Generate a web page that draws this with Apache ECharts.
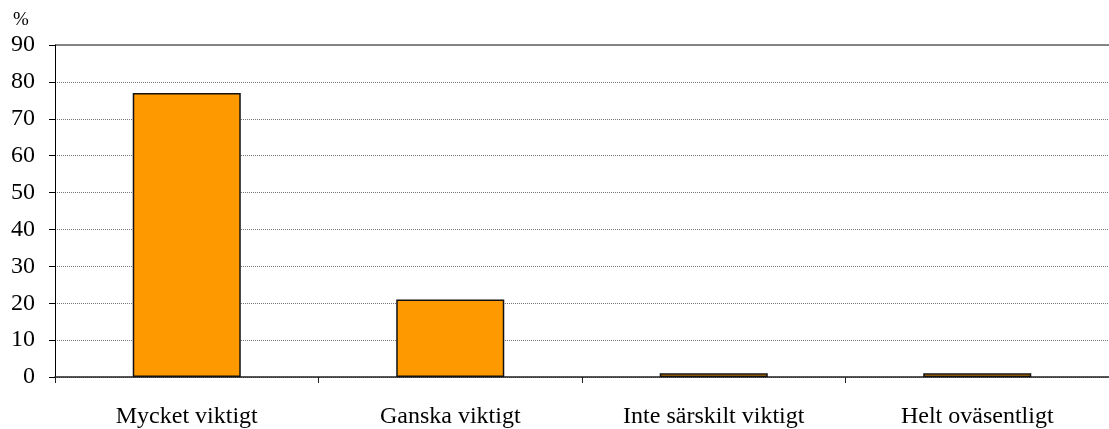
<!DOCTYPE html>
<html>
<head>
<meta charset="UTF-8">
<title>chart</title>
<script src="https://cdn.jsdelivr.net/npm/echarts@6/dist/echarts.min.js"></script>
<style>
  html, body { margin: 0; padding: 0; background: #fff; }
  #main { width: 1109px; height: 429px; }
</style>
</head>
<body>
<div id="main"></div>
<script>
var categories = ['Mycket viktigt', 'Ganska viktigt', 'Inte särskilt viktigt', 'Helt oväsentligt'];
var values = [77, 21, 1, 1];
var yTicks = { min: 0, max: 90, interval: 10 };

var myChart = echarts.init(document.getElementById('main'));
var font = '"Liberation Serif", "Times New Roman", serif';

var option = {
    animation: false,
    grid: { left: 55, right: 0, top: 45, bottom: 51 },
    xAxis: {
        type: 'category',
        data: categories,
        axisLine: { lineStyle: { color: '#222', width: 1.5 } },
        axisTick: { show: true, length: 6, lineStyle: { color: '#222' } },
        axisLabel: { color: '#000', fontFamily: font, fontSize: 24, margin: 28 }
    },
    yAxis: {
        type: 'value',
        min: yTicks.min,
        max: yTicks.max,
        interval: yTicks.interval,
        name: '%',
        nameLocation: 'end',
        nameGap: 15,
        nameTextStyle: { color: '#000', fontFamily: font, fontSize: 19, align: 'left', padding: [0, 0, 0, -42] },
        axisLine: { show: true, lineStyle: { color: '#000' } },
        axisTick: { show: true, length: 6, lineStyle: { color: '#000' } },
        axisLabel: { color: '#000', fontFamily: font, fontSize: 24, margin: 20 },
        splitLine: { show: true, lineStyle: { color: '#777', type: [1, 1], width: 1 } }
    },
    series: [{
        type: 'bar',
        data: values,
        barCategoryGap: '59%',
        itemStyle: { color: '#ff9900', borderColor: '#111', borderWidth: 1.5 }
    }],
    graphic: [{
        type: 'line',
        shape: { x1: 55, y1: 45, x2: 1109, y2: 45 },
        style: { stroke: '#888', lineWidth: 2 }
    }]
};
myChart.setOption(option);
</script>
</body>
</html>
